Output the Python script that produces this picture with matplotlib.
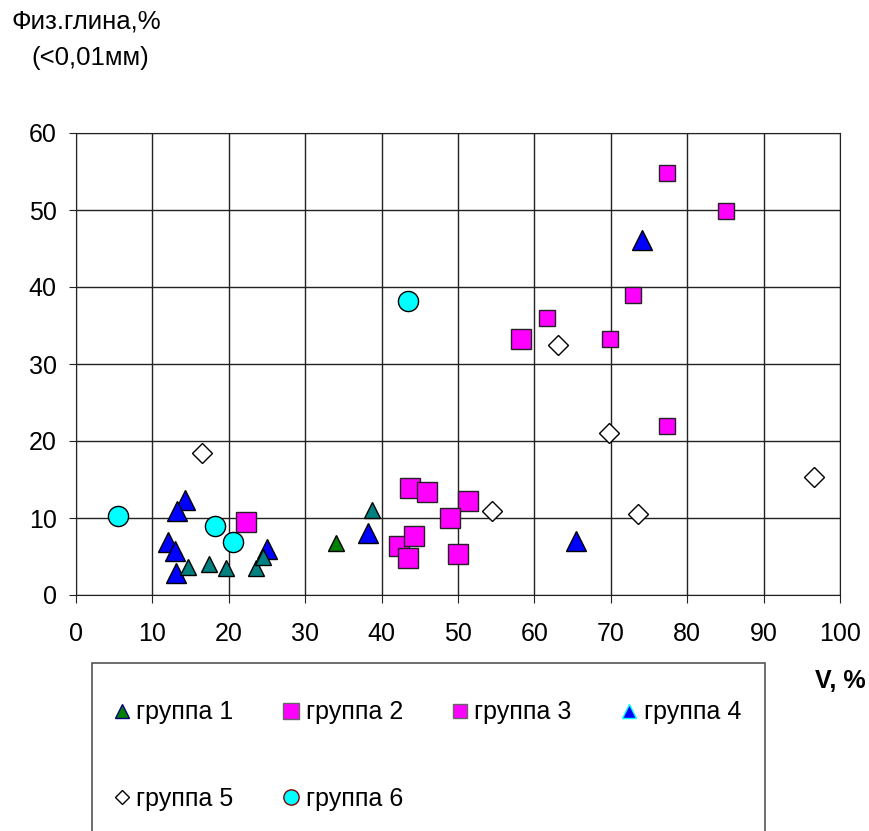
import matplotlib
matplotlib.use('Agg')
import matplotlib.pyplot as plt
from matplotlib.lines import Line2D
from matplotlib.patches import Rectangle

plt.rcParams['font.family'] = ['Liberation Sans', 'DejaVu Sans']

# данные по группам (V, %; физ. глина, %)
g1_x = [34.0]
g1_y = [6.8]
g1b_x = [14.7, 17.4, 19.6, 23.5, 24.5, 38.8]   # бирюзовые треугольники (без подписи)
g1b_y = [3.7, 4.0, 3.5, 3.5, 5.0, 11.0]
g2_x = [22.3, 43.7, 46.0, 51.3, 49.0, 42.3, 44.2, 43.4, 50.0, 58.2]
g2_y = [9.5, 13.9, 13.4, 12.2, 10.0, 6.4, 7.6, 4.8, 5.3, 33.2]
g3_x = [77.3, 85.1, 72.9, 61.6, 69.9, 77.3]
g3_y = [54.8, 49.9, 38.9, 36.0, 33.3, 21.9]
g4_x = [14.3, 13.2, 12.1, 13.0, 13.1, 25.0, 38.2, 65.4, 74.1]
g4_y = [12.4, 10.9, 6.9, 5.7, 2.9, 6.0, 8.0, 7.0, 46.1]
g5_x = [16.5, 54.4, 63.1, 69.7, 73.6, 96.6]
g5_y = [18.4, 10.9, 32.5, 21.1, 10.5, 15.3]
g6_x = [5.5, 18.2, 20.5, 43.5]
g6_y = [10.2, 8.9, 6.9, 38.2]

labels = ['группа 1', 'группа 2', 'группа 3', 'группа 4', 'группа 5', 'группа 6']
x_ticks = list(range(0, 101, 10))
y_ticks = list(range(0, 61, 10))

fig = plt.figure(figsize=(8.69, 8.31), dpi=100)
ax = fig.add_axes([76/869, 1-595/831, (840-76)/869, (595-133)/831])

ax.plot(g4_x, g4_y, ls='none', marker='^', ms=15, mfc='#0000ff', mec='black', mew=1, zorder=3)
ax.plot(g1b_x, g1b_y, ls='none', marker='^', ms=11, mfc='#008080', mec='black', mew=1, zorder=3)
ax.plot(g1_x, g1_y, ls='none', marker='^', ms=11.5, mfc='#008000', mec='black', mew=1, zorder=3)
ax.plot(g2_x, g2_y, ls='none', marker='s', ms=15, mfc='#ff00ff', mec='#222222', mew=1, zorder=3)
ax.plot(g3_x, g3_y, ls='none', marker='s', ms=11.5, mfc='#ff00ff', mec='#222222', mew=1, zorder=3)
ax.plot(g5_x, g5_y, ls='none', marker='D', ms=10.5, mfc='white', mec='black', mew=1, zorder=3)
ax.plot(g6_x, g6_y, ls='none', marker='o', ms=14.5, mfc='#00ffff', mec='black', mew=1, zorder=3)

ax.set_xlim(0, 100)
ax.set_ylim(0, 60)
ax.set_xticks(x_ticks)
ax.set_yticks(y_ticks)
ax.grid(True, color='#222222', lw=1)
ax.set_axisbelow(True)
for s in ax.spines.values():
    s.set_color('#222222')
ax.tick_params(axis='x', direction='out', length=6, pad=13.5, labelsize=18, color='#222222')
ax.tick_params(axis='y', direction='out', length=5, pad=9, labelsize=18, color='#222222')

fig.text(86/869, 1-22/831, 'Физ.глина,%', ha='center', va='center', fontsize=18.5)
fig.text(90/869, 1-58/831, '(<0,01мм)', ha='center', va='center', fontsize=18.5)
fig.text(866/869, 1-681/831, 'V, %', ha='right', va='center', fontsize=18, fontweight='bold')

# легенда: 4 колонки, порядок по строкам
handles = {
    'группа 1': Line2D([], [], ls='none', marker='^', ms=10, mfc='#008000', mec='#000080'),
    'группа 2': Line2D([], [], ls='none', marker='s', ms=11.5, mfc='#ff00ff', mec='#666666'),
    'группа 3': Line2D([], [], ls='none', marker='s', ms=10, mfc='#ff00ff', mec='#666666'),
    'группа 4': Line2D([], [], ls='none', marker='^', ms=10, mfc='#0000ff', mec='#00ffff'),
    'группа 5': Line2D([], [], ls='none', marker='D', ms=7.5, mfc='white', mec='black'),
    'группа 6': Line2D([], [], ls='none', marker='o', ms=11, mfc='#00ffff', mec='#800000'),
}
order = [labels[0], labels[4], labels[1], labels[5], labels[2], labels[3]]
fig.add_artist(Rectangle((92/869, -0.1), (765-92)/869, 0.1 + (831-663)/831,
                         transform=fig.transFigure, fill=False, ec='#555555', lw=1.2))
fig.legend([handles[k] for k in order], order, ncol=4, loc='upper left',
           bbox_to_anchor=(99/869, 1-688/831),
           frameon=False, fontsize=18, handlelength=0.8, handletextpad=0.2,
           columnspacing=1.87, labelspacing=2.5, borderpad=0)

fig.savefig('out.png', dpi=100)
